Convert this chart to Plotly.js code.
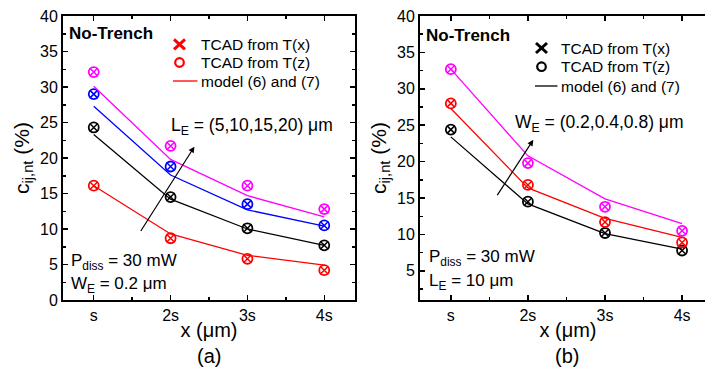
<!DOCTYPE html>
<html>
<head>
<meta charset="utf-8">
<script src="https://cdn.plot.ly/plotly-3.0.1.min.js"></script>
<style>
  html, body { margin: 0; padding: 0; overflow: hidden; background: #fff; }
  #chart { width: 716px; height: 368px; }
</style>
</head>
<body>
<div id="chart"></div>
<script>
// Lateral position x, in multiples of the emitter spacing s
const xPos = [1, 2, 3, 4];
const xLabels = ['s', '2s', '3s', '4s'];

// Panel (a): W_E = 0.2 um, L_E = 5, 10, 15, 20 um
const aTcadX_L5  = [16.1, 8.7, 5.8, 4.2];
const aTcadX_L10 = [24.3, 14.5, 10.1, 7.7];
const aTcadX_L15 = [29.0, 18.8, 13.5, 10.5];
const aTcadX_L20 = [32.1, 21.7, 16.1, 12.8];
const aTcadZ_L5  = [16.1, 8.7, 5.8, 4.2];
const aTcadZ_L10 = [24.3, 14.5, 10.1, 7.7];
const aTcadZ_L15 = [29.0, 18.8, 13.5, 10.5];
const aTcadZ_L20 = [32.1, 21.7, 16.1, 12.8];
const aModel_L5  = [16.1, 9.3, 6.3, 4.9];
const aModel_L10 = [23.3, 14.2, 10.0, 7.7];
const aModel_L15 = [27.3, 17.6, 12.7, 10.4];
const aModel_L20 = [30.1, 19.8, 14.7, 11.7];

// Panel (b): L_E = 10 um, W_E = 0.2, 0.4, 0.8 um
const bTcadX_W02 = [24.4, 14.5, 10.2, 7.8];
const bTcadX_W04 = [28.0, 16.8, 11.7, 8.9];
const bTcadX_W08 = [32.7, 19.8, 13.8, 10.5];
const bTcadZ_W02 = [24.4, 14.5, 10.2, 7.8];
const bTcadZ_W04 = [28.0, 16.8, 11.7, 8.9];
const bTcadZ_W08 = [32.7, 19.8, 13.8, 10.5];
const bModel_W02 = [23.4, 14.2, 10.1, 8.0];
const bModel_W04 = [27.3, 16.4, 12.2, 9.6];
const bModel_W08 = [32.7, 20.8, 14.9, 11.5];

// Legend labels
const legendLabels = ['TCAD from T(x)', 'TCAD from T(z)', 'model (6) and (7)'];

const W = 716, H = 368;
const px = v => v / W;
const py = v => 1 - v / H;
const FONT = 'Liberation Sans, Arial, sans-serif';

const RED = '#ff0000', BLUE = '#0000ff', MAG = '#ff00ff', BLK = '#000000';

const traces = [];

function series(xa, ya, model, tx, tz, color) {
  traces.push({x: xPos, y: model, xaxis: xa, yaxis: ya, mode: 'lines',
    line: {color: color, width: 1.3}, showlegend: false, hoverinfo: 'skip'});
  traces.push({x: xPos, y: tz, xaxis: xa, yaxis: ya, mode: 'markers',
    marker: {symbol: 'circle-open', size: 10, color: color, line: {width: 1.8, color: color}},
    showlegend: false});
  traces.push({x: xPos, y: tx, xaxis: xa, yaxis: ya, mode: 'markers',
    marker: {symbol: 'x-thin-open', size: 8, color: color, line: {width: 1.5, color: color}},
    showlegend: false});
}

series('x', 'y', aModel_L5,  aTcadX_L5,  aTcadZ_L5,  RED);
series('x', 'y', aModel_L10, aTcadX_L10, aTcadZ_L10, BLK);
series('x', 'y', aModel_L15, aTcadX_L15, aTcadZ_L15, BLUE);
series('x', 'y', aModel_L20, aTcadX_L20, aTcadZ_L20, MAG);

series('x2', 'y2', bModel_W02, bTcadX_W02, bTcadZ_W02, BLK);
series('x2', 'y2', bModel_W04, bTcadX_W04, bTcadZ_W04, RED);
series('x2', 'y2', bModel_W08, bTcadX_W08, bTcadZ_W08, MAG);

const xAxisCommon = {
  tickmode: 'array', tickvals: xPos, ticktext: xLabels,
  ticks: 'inside', ticklen: 5, tickwidth: 1.5, tickcolor: '#000',
  minor: {tick0: 0.5, dtick: 1, ticks: 'inside', ticklen: 3, tickwidth: 1.5, tickcolor: '#000'},
  showline: true, linewidth: 2, linecolor: '#000', mirror: 'allticks',
  showgrid: false, zeroline: false,
  tickfont: {family: FONT, size: 16, color: '#000'},
  title: {text: 'x (μm)', font: {family: FONT, size: 20, color: '#000'}, standoff: 0}
};
const yAxisCommon = {
  dtick: 5, ticks: 'inside', ticklen: 5, tickwidth: 1.5, tickcolor: '#000',
  minor: {dtick: 2.5, ticks: 'inside', ticklen: 3, tickwidth: 1.5, tickcolor: '#000'},
  showline: true, linewidth: 2, linecolor: '#000', mirror: 'allticks',
  showgrid: false, zeroline: false,
  tickfont: {family: FONT, size: 16, color: '#000'},
  domain: [py(300), py(16)]
};

function ann(text, x, y, size, opts) {
  return Object.assign({text: text, x: px(x), y: py(y), xref: 'paper', yref: 'paper',
    xanchor: 'left', yanchor: 'middle', showarrow: false,
    font: {family: FONT, size: size, color: '#000'}}, opts || {});
}

// Hand-built legend: key glyphs as shapes, labels as annotations
const shapes = [];
const legendAnns = [];
function legendBlock(cx, textX, rows, color) {
  const ln = (x0, y0, x1, y1, w) => shapes.push({type: 'line', xref: 'paper', yref: 'paper',
    x0: px(x0), y0: py(y0), x1: px(x1), y1: py(y1), line: {color: color, width: w}});
  // cross
  ln(cx - 5.5, rows[0] - 5, cx + 5.5, rows[0] + 5, 3);
  ln(cx - 5.5, rows[0] + 5, cx + 5.5, rows[0] - 5, 3);
  // ring
  shapes.push({type: 'circle', xref: 'paper', yref: 'paper',
    x0: px(cx - 4.3), x1: px(cx + 4.3), y0: py(rows[1] + 4.3), y1: py(rows[1] - 4.3),
    line: {color: color, width: 2.2}});
  // line
  ln(cx - 6.5, rows[2], textX - 1.5, rows[2], 1.3);
  legendLabels.forEach((t, i) => legendAnns.push(ann(t, textX, rows[i], 15.5)));
}
legendBlock(179.5, 199, [44.3, 62.5, 81], RED);
legendBlock(541.5, 559, [48, 66.7, 86], BLK);

const layout = {
  width: W, height: H,
  margin: {l: 0, r: 0, t: 0, b: 0},
  paper_bgcolor: '#fff', plot_bgcolor: '#fff',
  font: {family: FONT, color: '#000'},
  showlegend: false,
  xaxis: Object.assign({}, xAxisCommon, {domain: [px(63), px(355)], range: [0.6, 4.4], anchor: 'y'}),
  xaxis2: Object.assign({}, xAxisCommon, {domain: [px(420), 1], range: [0.6, 4.44], anchor: 'y2'}),
  yaxis: Object.assign({}, yAxisCommon, {range: [0, 40], anchor: 'x',
    title: {text: 'c<sub>ij,nt</sub> (%)', font: {family: FONT, size: 21, color: '#000'}, standoff: 5}}),
  yaxis2: Object.assign({}, yAxisCommon, {range: [1, 40], anchor: 'x2',
    title: {text: 'c<sub>ij,nt</sub> (%)', font: {family: FONT, size: 21, color: '#000'}, standoff: 5}}),
  shapes: shapes,
  annotations: legendAnns.concat([
    ann('<b>No-Trench</b>', 67, 34, 17),
    ann('<b>No-Trench</b>', 424, 35, 17),
    ann('L<sub>E</sub> = (5,10,15,20) μm', 169, 126, 17.5),
    ann('W<sub>E</sub> = (0.2,0.4,0.8) μm', 513, 124, 17.5),
    ann('P<sub>diss</sub> = 30 mW', 69, 262, 17),
    ann('W<sub>E</sub> = 0.2 μm', 69, 285, 17),
    ann('P<sub>diss</sub> = 30 mW', 427, 258, 17),
    ann('L<sub>E</sub> = 10 μm', 427, 282, 17),
    ann('(a)', 209, 356, 20, {xanchor: 'center'}),
    ann('(b)', 567, 356, 20, {xanchor: 'center'}),
    // trend arrows
    {x: 2.31, y: 21.6, ax: 1.60, ay: 9.5, xref: 'x', yref: 'y', axref: 'x', ayref: 'y',
      showarrow: true, arrowhead: 2, arrowsize: 1, arrowwidth: 1.2, arrowcolor: '#000', text: ''},
    {x: 2.07, y: 23.0, ax: 1.59, ay: 15.2, xref: 'x2', yref: 'y2', axref: 'x2', ayref: 'y2',
      showarrow: true, arrowhead: 2, arrowsize: 1, arrowwidth: 1.2, arrowcolor: '#000', text: ''}
  ])
};

Plotly.newPlot('chart', traces, layout, {staticPlot: true, displayModeBar: false});
</script>
</body>
</html>
